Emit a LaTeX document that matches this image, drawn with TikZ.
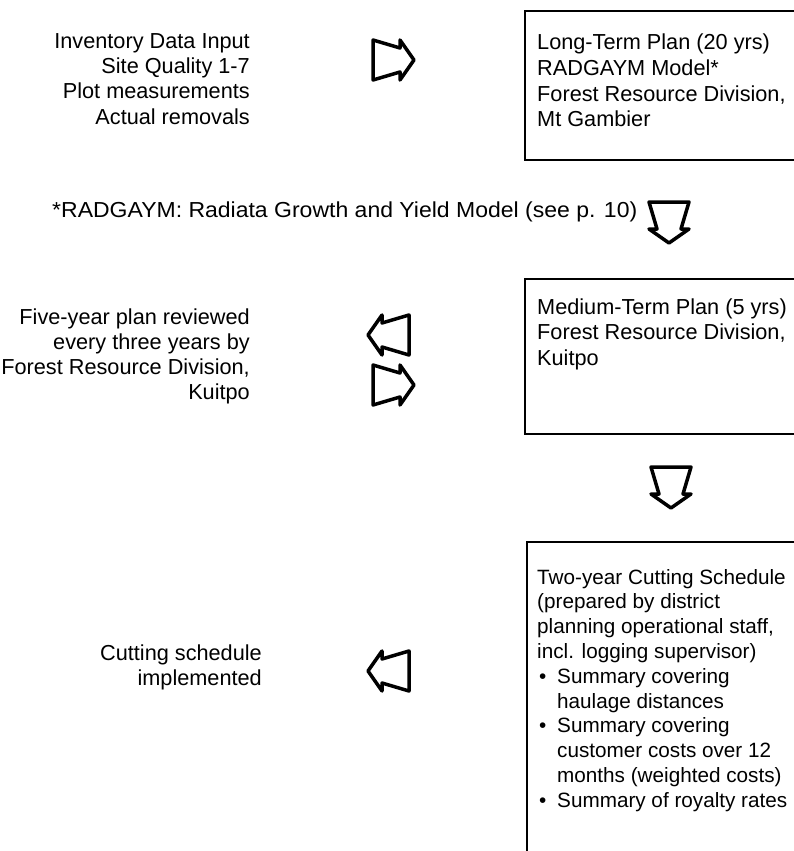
\documentclass[tikz,border=0pt]{standalone}
\usepackage{fontspec}
\setmainfont{Liberation Sans}
\begin{document}
\begin{tikzpicture}[x=1pt,y=-1pt,
  txt/.style={inner sep=0pt, font=\fontsize{21.7}{25}\selectfont},
  lt/.style={txt, anchor=base east},
  rt/.style={txt, anchor=base west},
  rts/.style={rt, font=\fontsize{20.7}{25}\selectfont},
  frame/.style={line width=1.3pt, draw=black},
  blockarrow/.style={line width=3.5pt, line join=round, draw=black},
  blk/.pic={\draw[blockarrow] (-20,-20) -- (7,-12) -- (7,-20) -- (21,0) -- (7,20) -- (7,12) -- (-20,20) -- cycle;}]
\useasboundingbox (0,0) rectangle (794,851);

% ---- boxes (open to the right, beyond the page edge)
\draw[frame] (800,11) -- (525,11) -- (525,160) -- (800,160);
\draw[frame] (800,279) -- (525,279) -- (525,434) -- (800,434);
\draw[frame] (800,542) -- (527,542) -- (527,860);

% ---- box 1 text
\node[rt] (b1a) at (537,50)    {Long-Term Plan (20 yrs)};
\node[rt] (b1b) at (537,75.5)  {RADGAYM Model*};
\node[rt] (b1c) at (537,101)   {Forest Resource Division,};
\node[rt] (b1d) at (537,126.5) {Mt Gambier};

% ---- left block 1
\node[lt] (l1a) at (250,48.5) {Inventory Data Input};
\node[lt] (l1b) at (250,73.5) {Site Quality 1-7};
\node[lt] (l1c) at (250,99)   {Plot measurements};
\node[lt] (l1d) at (250,124.5){Actual removals};

% ---- footnote
\node[rt, xscale=1.06] (fn) at (52,217) {*RADGAYM: Radiata Growth and Yield Model (see p. 10)};

% ---- box 2 text
\node[rt] (b2a) at (537,314)   {Medium-Term Plan (5 yrs)};
\node[rt] (b2b) at (537,339.5) {Forest Resource Division,};
\node[rt] (b2c) at (537,365)   {Kuitpo};

% ---- left block 2
\node[lt] (l2a) at (250,324.5) {Five-year plan reviewed};
\node[lt] (l2b) at (250,349.5) {every three years by};
\node[lt] (l2c) at (250,374.5) {Forest Resource Division,};
\node[lt] (l2d) at (250,399.5) {Kuitpo};

% ---- box 3 text
\node[rts] (b3a) at (537,584)   {Two-year Cutting Schedule};
\node[rts] (b3b) at (537,608.8) {(prepared by district};
\node[rts] (b3c) at (537,633.6) {planning operational staff,};
\node[rts] (b3d) at (537,658.4) {incl. logging supervisor)};
\node[rts] (u1)  at (539,683.2) {•};
\node[rts] (b3e) at (557,683.2) {Summary covering};
\node[rts] (b3f) at (557,708)   {haulage distances};
\node[rts] (u2)  at (539,732.8) {•};
\node[rts] (b3g) at (557,732.8) {Summary covering};
\node[rts] (b3h) at (557,757.6) {customer costs over 12};
\node[rts] (b3i) at (557,782.4) {months (weighted costs)};
\node[rts] (u3)  at (539,807.2) {•};
\node[rts] (b3j) at (557,807.2) {Summary of royalty rates};

% ---- left block 3
\node[lt] (l3a) at (262,660) {Cutting schedule};
\node[lt] (l3b) at (262,685) {implemented};

% ---- block arrows
\pic at (393,60) {blk};
\pic at (669,222) [rotate=-90] {blk};
\pic at (389,335) [rotate=180] {blk};
\pic at (393,385) {blk};
\pic at (671,487) [rotate=-90] {blk};
\pic at (389,671) [rotate=180] {blk};
\end{tikzpicture}
\end{document}
